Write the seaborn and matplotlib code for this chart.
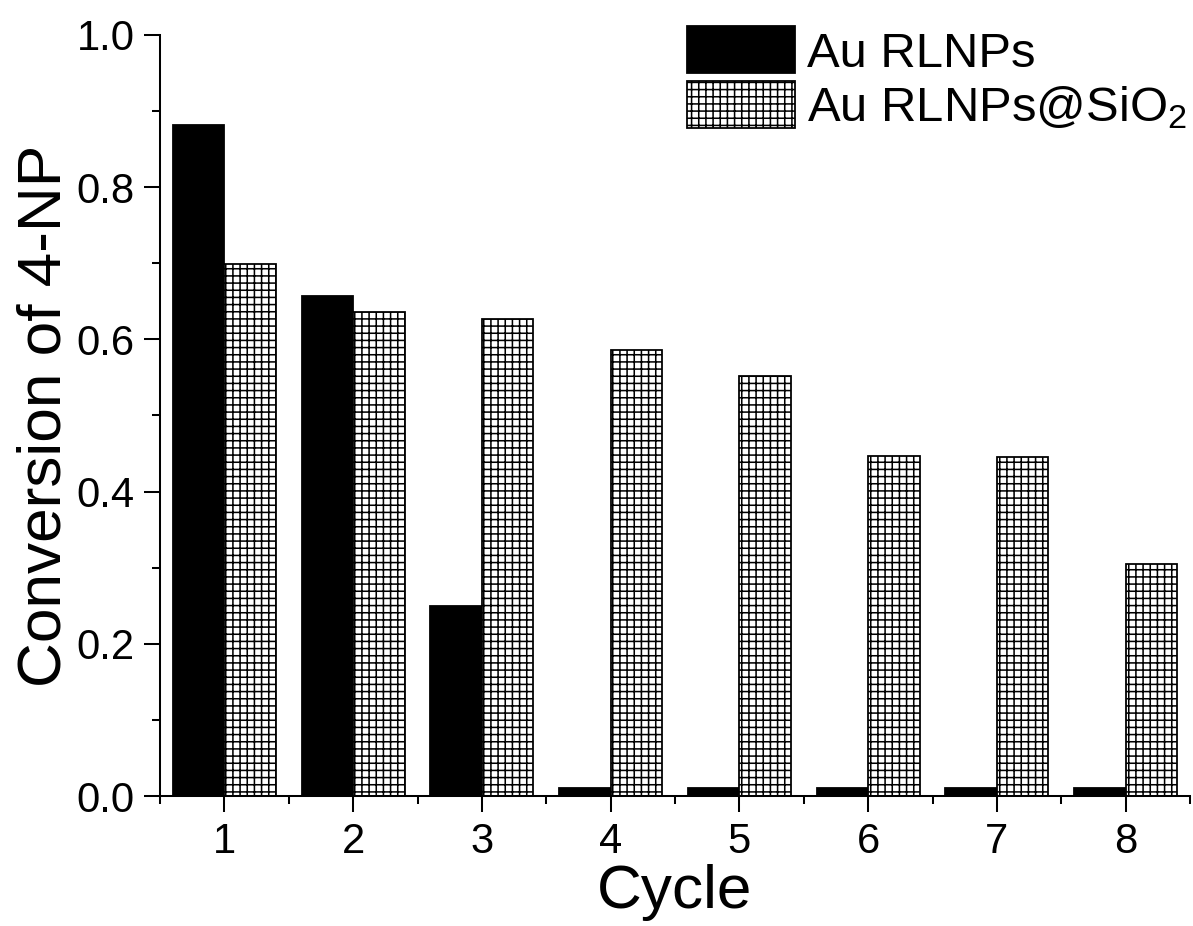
import numpy as np
import pandas as pd
import matplotlib
matplotlib.use("Agg")
import matplotlib.pyplot as plt
from matplotlib.ticker import MultipleLocator, FixedLocator, FormatStrFormatter
import seaborn as sns

cycles = ["1", "2", "3", "4", "5", "6", "7", "8"]
au_rlnps = [0.882, 0.657, 0.250, 0.010, 0.010, 0.010, 0.010, 0.010]
au_rlnps_sio2 = [0.699, 0.636, 0.627, 0.586, 0.552, 0.447, 0.445, 0.305]
series_names = ["Au RLNPs", "Au RLNPs@SiO$_2$"]

df = pd.DataFrame({
    "Cycle": cycles * 2,
    "Conversion": au_rlnps + au_rlnps_sio2,
    "Sample": [series_names[0]] * len(cycles) + [series_names[1]] * len(cycles),
})

sns.set_style("ticks")
plt.rcParams["font.family"] = ["Liberation Sans", "DejaVu Sans"]
plt.rcParams["mathtext.fontset"] = "custom"
plt.rcParams["mathtext.rm"] = "Liberation Sans"
plt.rcParams["mathtext.default"] = "rm"
plt.rcParams["hatch.linewidth"] = 1.3
plt.rcParams["hatch.color"] = "black"
plt.rcParams["text.color"] = "black"
plt.rcParams["axes.labelcolor"] = "black"
plt.rcParams["axes.edgecolor"] = "black"
plt.rcParams["xtick.color"] = "black"
plt.rcParams["ytick.color"] = "black"

dpi = 86
fig, ax = plt.subplots(figsize=(1193 / dpi, 926 / dpi), dpi=dpi)
fig.subplots_adjust(left=160 / 1193, right=1190 / 1193, bottom=130 / 926, top=891 / 926)

sns.barplot(data=df, x="Cycle", y="Conversion", hue="Sample",
            palette=["black", "white"], edgecolor="black", linewidth=1.5,
            width=0.8, legend=False, ax=ax)

# grid hatch on the SiO2-coated series
for p in ax.containers[1]:
    p.set_hatch("++")

ax.set_xlim(-0.5, 7.5)
ax.set_ylim(0, 1.0)
ax.yaxis.set_major_locator(MultipleLocator(0.2))
ax.yaxis.set_minor_locator(MultipleLocator(0.1))
ax.yaxis.set_major_formatter(FormatStrFormatter("%.1f"))
ax.xaxis.set_minor_locator(FixedLocator(np.arange(-0.5, 8, 1)))

sns.despine(ax=ax)
for s in ["left", "bottom"]:
    ax.spines[s].set_linewidth(1.7)
ax.tick_params(which="major", length=13.4, width=1.7, labelsize=35, pad=8)
ax.tick_params(which="minor", length=6.7, width=1.7)

ax.set_xlabel("Cycle", fontsize=52, labelpad=2)
ax.set_ylabel("Conversion of 4-NP", fontsize=52, labelpad=2)

ax.legend(handles=list(ax.containers), labels=series_names, loc="upper right",
          bbox_to_anchor=(1.016, 1.037), frameon=False, fontsize=41,
          handlelength=2.2, handleheight=1.1, handletextpad=0.25,
          labelspacing=0.1, borderaxespad=0)

fig.savefig("out.png", dpi=dpi)
